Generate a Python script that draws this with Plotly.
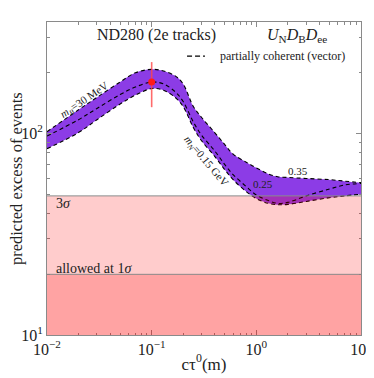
import plotly.graph_objects as go

# c tau^0 in metres
ctau = [0.01, 0.02, 0.03, 0.05, 0.07, 0.1, 0.13, 0.17, 0.2, 0.25, 0.3, 0.4,
        0.5, 0.6, 0.8, 1.0, 1.3, 1.6, 2.0, 3.0, 5.0, 7.0, 10.0]
upper = [102, 131, 151, 180, 200, 208, 204, 192, 176, 136, 120, 101,
         88, 79, 72, 67.5, 63, 61, 60.5, 59.8, 59, 58, 57]
middle = [97, 117, 133, 156, 170, 180, 176, 160, 144, 114, 98, 82,
          70, 62.5, 54.5, 49.5, 46.5, 45, 45.5, 49, 53, 55.5, 56.5]
lower = [84, 101, 117, 140, 155, 167, 164, 150, 136, 107, 92, 77,
         66, 59, 51.5, 47.5, 45, 44.3, 44.5, 46, 48, 49, 50]

# measured point
pt_x = [0.1]
pt_y = [180]
pt_err_up = [46]
pt_err_down = [45]

three_sigma = 49
one_sigma = 20

serif = "Liberation Serif"
purple = "#8c3ce6"
dash = "4px,3px"
txt = "#222"

fig = go.Figure()
fig.add_trace(go.Scatter(x=ctau, y=lower, mode="lines", line_shape="spline",
                         line=dict(color="black", width=1.1, dash=dash)))
fig.add_trace(go.Scatter(x=ctau, y=upper, mode="lines", fill="tonexty", line_shape="spline",
                         fillcolor=purple,
                         line=dict(color="black", width=1.1, dash=dash)))
fig.add_trace(go.Scatter(x=ctau, y=middle, mode="lines", line_shape="spline",
                         line=dict(color="black", width=1.1, dash=dash)))
fig.add_trace(go.Scatter(
    x=pt_x, y=pt_y, mode="markers",
    marker=dict(color="#ff1a1a", size=7),
    error_y=dict(type="data", symmetric=False, array=pt_err_up,
                 arrayminus=pt_err_down, color="rgba(255,70,70,0.8)",
                 thickness=1.6, width=0)))

# excluded / allowed regions
for top in [three_sigma, one_sigma]:
    fig.add_shape(type="rect", xref="paper", yref="y", x0=0, x1=1, y0=10, y1=top,
                  fillcolor="red", opacity=0.2, line_width=0, layer="above")
    fig.add_shape(type="line", xref="paper", yref="y", x0=0, x1=1, y0=top, y1=top,
                  line=dict(color="#8a8a8a", width=1), layer="above")

fig.add_shape(type="line", xref="paper", yref="paper", x0=0.446, x1=0.503,
              y0=0.891, y1=0.891, line=dict(color="black", width=1.3, dash="5px,3px"))


def note(text, x, y, size, xanchor="center", **kw):
    fig.add_annotation(text=text, xref="paper", yref="paper", x=x, y=y, showarrow=False,
                       xanchor=xanchor, yanchor="middle",
                       font=dict(family=serif, size=size, color=txt), **kw)


note("ND280 (2e tracks)", 0.35, 0.958, 16)
note("<i>U</i><sub>N</sub><i>D</i><sub>B</sub><i>D</i><sub>ee</sub>", 0.796, 0.958, 16)
note("partially coherent (vector)", 0.545, 0.891, 12, xanchor="left")
note("<i>m<sub>B</sub></i>=30 MeV", 0.121, 0.75, 11, textangle=-34)
note("<i>m<sub>N</sub></i>=0.15 GeV", 0.505, 0.556, 11, textangle=50)
note("0.25", 0.688, 0.482, 11)
note("0.35", 0.799, 0.524, 11)
note("3<i>σ</i>", 0.022, 0.421, 14, xanchor="left")
note("allowed at 1<i>σ</i>", 0.022, 0.214, 14, xanchor="left")
note("predicted excess of events", -0.097, 0.5, 16.5, textangle=-90)

minor_x = [m * 10 ** e for e in range(-2, 1) for m in range(2, 10)]
minor_y = [m * 10 ** e for e in range(1, 3) for m in range(2, 10)]

axis_common = dict(showgrid=False, zeroline=False, showline=True, linecolor="#8a8a8a",
                   linewidth=1, mirror="allticks", ticks="inside", ticklen=5,
                   tickcolor="#8a8a8a", automargin=False,
                   tickfont=dict(family=serif, size=16, color=txt))

fig.update_xaxes(type="log", range=[-2, 1],
                 tickvals=[0.01, 0.1, 1, 10],
                 ticktext=["10<sup>−2</sup>", "10<sup>−1</sup>", "10<sup>0</sup>", "10<sup>1</sup>"],
                 minor=dict(tickvals=minor_x, ticks="inside", ticklen=2.5, tickcolor="#8a8a8a"),
                 title=dict(text="cτ<sup>0</sup>(m)", font=dict(family=serif, size=17, color=txt),
                            standoff=0),
                 **axis_common)
fig.update_yaxes(type="log", range=[1, 2.553],
                 tickvals=[10, 100],
                 ticktext=["10<sup>1</sup>", "10<sup>2</sup>"],
                 minor=dict(tickvals=minor_y, ticks="inside", ticklen=2.5, tickcolor="#8a8a8a"),
                 **axis_common)

# the page body adds an 8px offset, margins compensate for it
fig.update_layout(width=374, height=378, showlegend=False,
                  margin=dict(l=39, r=21, t=14, b=51),
                  plot_bgcolor="white", paper_bgcolor="white",
                  font=dict(family=serif))

fig.write_html("out.html")
